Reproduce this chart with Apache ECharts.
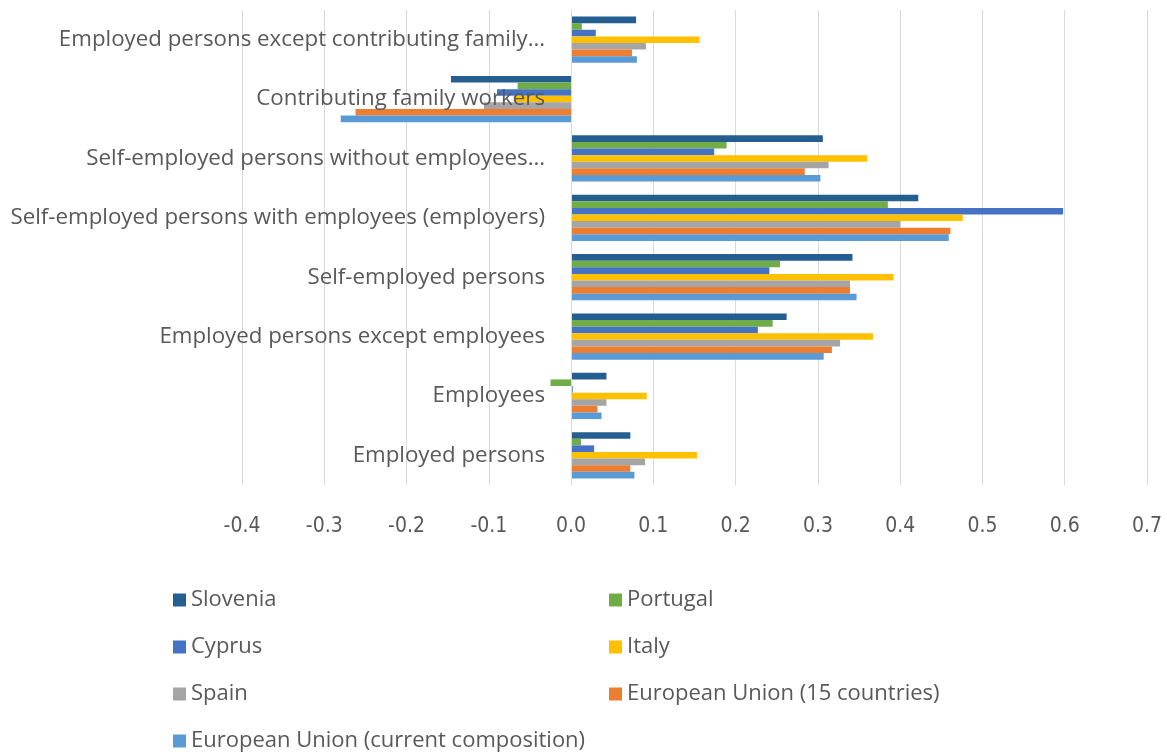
<!DOCTYPE html>
<html>
<head>
<meta charset="utf-8">
<script src="https://cdn.jsdelivr.net/npm/echarts@6/dist/echarts.min.js"></script>
<style>
  html, body { margin: 0; padding: 0; background: #fff; }
  #chart { width: 1167px; height: 752px; }
</style>
</head>
<body>
<div id="chart"></div>
<script>
// Categories, listed bottom to top as on the axis
const categories = [
  'Employed persons',
  'Employees',
  'Employed persons except employees',
  'Self-employed persons',
  'Self-employed persons with employees (employers)',
  'Self-employed persons without employees…',
  'Contributing family workers',
  'Employed persons except contributing family…'
];

const seriesNames = [
  'Slovenia',
  'Portugal',
  'Cyprus',
  'Italy',
  'Spain',
  'European Union (15 countries)',
  'European Union (current composition)'
];

// Values per country, same order as categories
const slovenia = [0.072, 0.043, 0.262, 0.342, 0.422, 0.306, -0.146, 0.079];
const portugal = [0.012, -0.025, 0.245, 0.254, 0.385, 0.189, -0.065, 0.013];
const cyprus   = [0.028, 0.002, 0.227, 0.241, 0.598, 0.174, -0.090, 0.030];
const italy    = [0.153, 0.092, 0.367, 0.392, 0.476, 0.360, -0.070, 0.156];
const spain    = [0.090, 0.043, 0.327, 0.339, 0.400, 0.313, -0.106, 0.091];
const eu15     = [0.072, 0.032, 0.317, 0.339, 0.461, 0.284, -0.262, 0.074];
const euNow    = [0.077, 0.037, 0.307, 0.347, 0.459, 0.303, -0.280, 0.080];

const xTicks = { min: -0.4, max: 0.7, step: 0.1 };

const values = [slovenia, portugal, cyprus, italy, spain, eu15, euNow];
const colors = ['#255E91', '#70AD47', '#4472C4', '#FFC000', '#A5A5A5', '#ED7D31', '#5B9BD5'];

const textColor = '#595959';
const fontFamily = '"Open Sans", "Liberation Sans", sans-serif';
const narrowFont = '"Liberation Sans Narrow", "DejaVu Sans Condensed", "Open Sans", sans-serif';

// Plot area geometry
const gridLeft = 242;
const gridRight = 20;

const chart = echarts.init(document.getElementById('chart'), null, { renderer: 'canvas' });

const series = seriesNames.map((name, i) => ({
  name: name,
  type: 'bar',
  data: values[i],
  itemStyle: { color: colors[i] },
  barGap: '0%',
  barCategoryGap: '22%'
}));

// Legend: two columns, one component per entry so rows line up exactly
const legendSlots = [
  ['Slovenia', 168, 0], ['Portugal', 604, 0],
  ['Cyprus', 168, 1], ['Italy', 604, 1],
  ['Spain', 168, 2], ['European Union (15 countries)', 604, 2],
  ['European Union (current composition)', 168, 3]
];
const legends = legendSlots.map(([name, left, row]) => ({
  data: [name],
  orient: 'horizontal',
  left: left,
  top: 584 + row * 47,
  itemWidth: 13,
  itemHeight: 13,
  itemGap: 0,
  icon: 'rect',
  textStyle: { color: textColor, fontSize: 22, fontFamily: fontFamily }
}));

// Category labels sit just left of the zero line, so shift them from the grid edge
const plotWidth = 1167 - gridLeft - gridRight;
const zeroX = gridLeft + plotWidth * (0 - xTicks.min) / (xTicks.max - xTicks.min);
const labelGap = 26;

chart.setOption({
  animation: false,
  backgroundColor: '#fff',
  grid: { left: gridLeft, right: gridRight, top: 10, height: 475, containLabel: false, outerBoundsMode: 'none' },
  xAxis: {
    type: 'value',
    min: xTicks.min,
    max: xTicks.max,
    interval: xTicks.step,
    axisLine: { show: false },
    axisTick: { show: false },
    splitLine: { show: true, lineStyle: { color: '#D9D9D9', width: 1 } },
    axisLabel: {
      color: textColor,
      fontSize: 21,
      fontFamily: narrowFont,
      margin: 31,
      formatter: v => v.toFixed(1)
    }
  },
  yAxis: {
    type: 'category',
    data: categories,
    z: 5,
    axisLine: { show: true, onZero: true, lineStyle: { color: '#D9D9D9', width: 1 } },
    axisTick: { show: false },
    splitLine: { show: false },
    axisLabel: {
      color: textColor,
      fontSize: 22.3,
      fontFamily: fontFamily,
      margin: labelGap - (zeroX - gridLeft)
    }
  },
  legend: legends,
  series: series
});
</script>
</body>
</html>
